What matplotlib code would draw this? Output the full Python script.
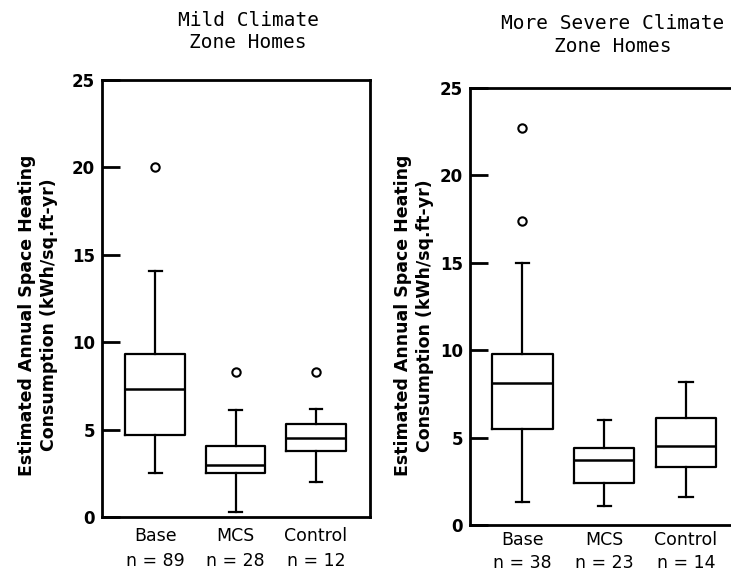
import matplotlib
matplotlib.use('Agg')
import matplotlib.pyplot as plt

# group names and sample sizes
groups = ['Base', 'MCS', 'Control']
n_mild = [89, 28, 12]
n_severe = [38, 23, 14]

# box stats, one list per statistic (Base, MCS, Control)
mild_whislo = [2.5, 0.3, 2.0]
mild_q1 = [4.7, 2.5, 3.8]
mild_med = [7.3, 3.0, 4.5]
mild_q3 = [9.3, 4.05, 5.3]
mild_whishi = [14.1, 6.1, 6.2]
mild_fliers = [[20.0], [8.3], [8.3]]

severe_whislo = [1.3, 1.1, 1.6]
severe_q1 = [5.5, 2.4, 3.3]
severe_med = [8.1, 3.7, 4.5]
severe_q3 = [9.8, 4.4, 6.1]
severe_whishi = [15.0, 6.0, 8.2]
severe_fliers = [[22.7, 17.4], [], []]

ylabel = 'Estimated Annual Space Heating\nConsumption (kWh/sq.ft-yr)'


def make_stats(lo, q1, med, q3, hi, fl):
    stats = []
    for i in range(len(groups)):
        stats.append({'whislo': lo[i], 'q1': q1[i], 'med': med[i],
                      'q3': q3[i], 'whishi': hi[i], 'fliers': fl[i]})
    return stats


def draw_panel(ax, stats, ns, xlim, label_xy, xpad, xls):
    line = dict(color='black', linewidth=1.6)
    ax.bxp(stats, positions=[1, 2, 3], widths=0.74, capwidths=0.16,
           boxprops=line, whiskerprops=line, capprops=line,
           medianprops=dict(color='black', linewidth=1.8),
           flierprops=dict(marker='o', markerfacecolor='none',
                           markeredgecolor='black', markersize=6,
                           markeredgewidth=1.5))
    ax.set_xlim(*xlim)
    ax.set_ylim(0, 25)
    ax.set_yticks([0, 5, 10, 15, 20, 25])
    ax.set_xticks([1, 2, 3])
    ax.set_xticklabels(['%s\nn = %d' % (g, n) for g, n in zip(groups, ns)],
                       fontsize=12.5, linespacing=xls)
    ax.tick_params(axis='x', length=0, pad=xpad)
    ax.tick_params(axis='y', direction='in', length=13, width=2,
                   labelsize=12, pad=5)
    for lab in ax.get_yticklabels():
        lab.set_fontweight('bold')
    for s in ax.spines.values():
        s.set_linewidth(2)
    ax.set_ylabel(ylabel, fontsize=12.5, fontweight='bold', linespacing=1.3)
    ax.yaxis.set_label_coords(*label_xy)


fig = plt.figure(figsize=(7.31, 5.76), dpi=100)
ax1 = fig.add_axes([0.1395, 0.1024, 0.3665, 0.7587])
ax2 = fig.add_axes([0.643, 0.0885, 0.367, 0.7587])

draw_panel(ax1, make_stats(mild_whislo, mild_q1, mild_med, mild_q3,
                           mild_whishi, mild_fliers),
           n_mild, (0.34, 3.67), (-0.165, 0.462), 7, 1.55)
draw_panel(ax2, make_stats(severe_whislo, severe_q1, severe_med, severe_q3,
                           severe_whishi, severe_fliers),
           n_severe, (0.36, 3.64), (-0.134, 0.48), 4, 1.4)

fig.text(248 / 731, 0.945, 'Mild Climate\nZone Homes', ha='center', va='center',
         family='DejaVu Sans Mono', fontsize=14, linespacing=1.2)
fig.text(613 / 731, 0.939, 'More Severe Climate\nZone Homes', ha='center', va='center',
         family='DejaVu Sans Mono', fontsize=14, linespacing=1.25)

fig.savefig('out.png', dpi=100, facecolor='white')
